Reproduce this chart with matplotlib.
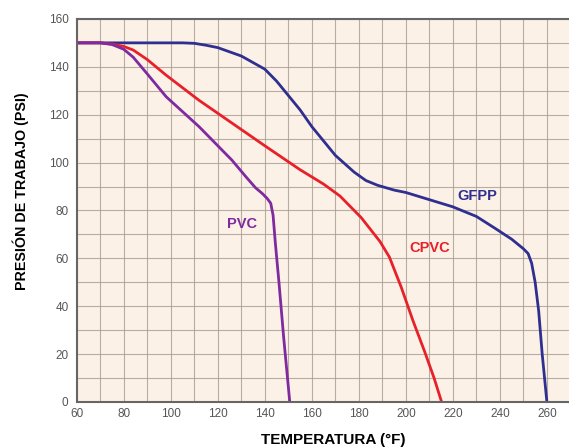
import matplotlib
matplotlib.use("Agg")
import matplotlib.pyplot as plt
import numpy as np

plt.rcParams["font.family"] = ["Liberation Sans", "DejaVu Sans"]

# temperature (F) / working pressure (psi)
gfpp_t = [60, 105, 110, 115, 120, 130, 140, 145, 150, 155, 160, 170, 178, 183, 188, 195, 200, 210, 220, 230, 238, 245, 250, 252, 253.5, 255, 256.5, 258, 260]
gfpp_p = [150, 150, 149.8, 149, 148, 144.5, 139, 134, 128, 122, 115, 103, 96, 92.5, 90.5, 88.5, 87.5, 84.5, 81.5, 77.5, 72.5, 68, 64, 62, 58, 50, 38, 20, 0]

cpvc_t = [60, 70, 75, 80, 84, 90, 98, 112, 126, 140, 155, 165, 172, 177, 181, 185, 189, 193, 198, 203, 208, 212, 215.2]
cpvc_p = [150, 150, 149.5, 148.5, 147, 143, 136.5, 126, 116.5, 107, 97, 91, 86, 81, 77, 72, 67, 60.5, 48, 34, 21, 10, 0]

pvc_t = [60, 70, 75, 80, 84, 90, 98, 112, 126, 132, 136, 139, 141, 142.5, 143.5, 144.5, 146, 148, 150.6]
pvc_p = [150, 150, 149.3, 147.3, 144, 137, 127.5, 115, 101, 94, 89.5, 87, 85, 83, 78, 66, 50, 27, 0]

labels = {"GFPP": (230.5, 86.2), "CPVC": (210, 64.5), "PVC": (130.5, 74.5)}
colors = {"GFPP": "#2e2f8f", "CPVC": "#e8202a", "PVC": "#7f2a9e"}

fig = plt.figure(figsize=(5.69, 4.47), dpi=100)
ax = fig.add_axes([0.135, 0.1007, 0.865, 0.857])
ax.set_facecolor("#fcf1e6")

ax.plot(gfpp_t, gfpp_p, color=colors["GFPP"], lw=2.0)
ax.plot(cpvc_t, cpvc_p, color=colors["CPVC"], lw=2.0)
ax.plot(pvc_t, pvc_p, color=colors["PVC"], lw=2.0)

for name, (x, y) in labels.items():
    ax.text(x, y, name, color=colors[name], fontsize=10.5, fontweight="bold",
            ha="center", va="center")

ax.set_xlim(60, 269.4)
ax.set_ylim(0, 160)
ax.set_xticks(np.arange(60, 261, 20))
ax.set_yticks(np.arange(0, 161, 20))
ax.set_xticks(np.arange(60, 270, 10), minor=True)
ax.set_yticks(np.arange(0, 161, 10), minor=True)
ax.grid(which="both", color="#a89c92", lw=0.8, alpha=0.8)
ax.set_axisbelow(True)
ax.tick_params(which="both", length=0, labelsize=8.5, labelcolor="#555555")
ax.tick_params(axis="x", pad=4)
ax.tick_params(axis="y", pad=6)

for side in ["left", "bottom", "top"]:
    ax.spines[side].set_color("#666666")
    ax.spines[side].set_linewidth(1.5)
ax.spines["right"].set_visible(False)

fig.text(333 / 569, 1 - 440 / 447, "TEMPERATURA (°F)", fontsize=11, fontweight="bold",
         ha="center", va="center")
fig.text(21 / 569, 1 - 191 / 447, "PRESIÓN DE TRABAJO (PSI)", fontsize=10.3, fontweight="bold",
         ha="center", va="center", rotation=90)

fig.savefig("out.png", dpi=100, facecolor="white")
